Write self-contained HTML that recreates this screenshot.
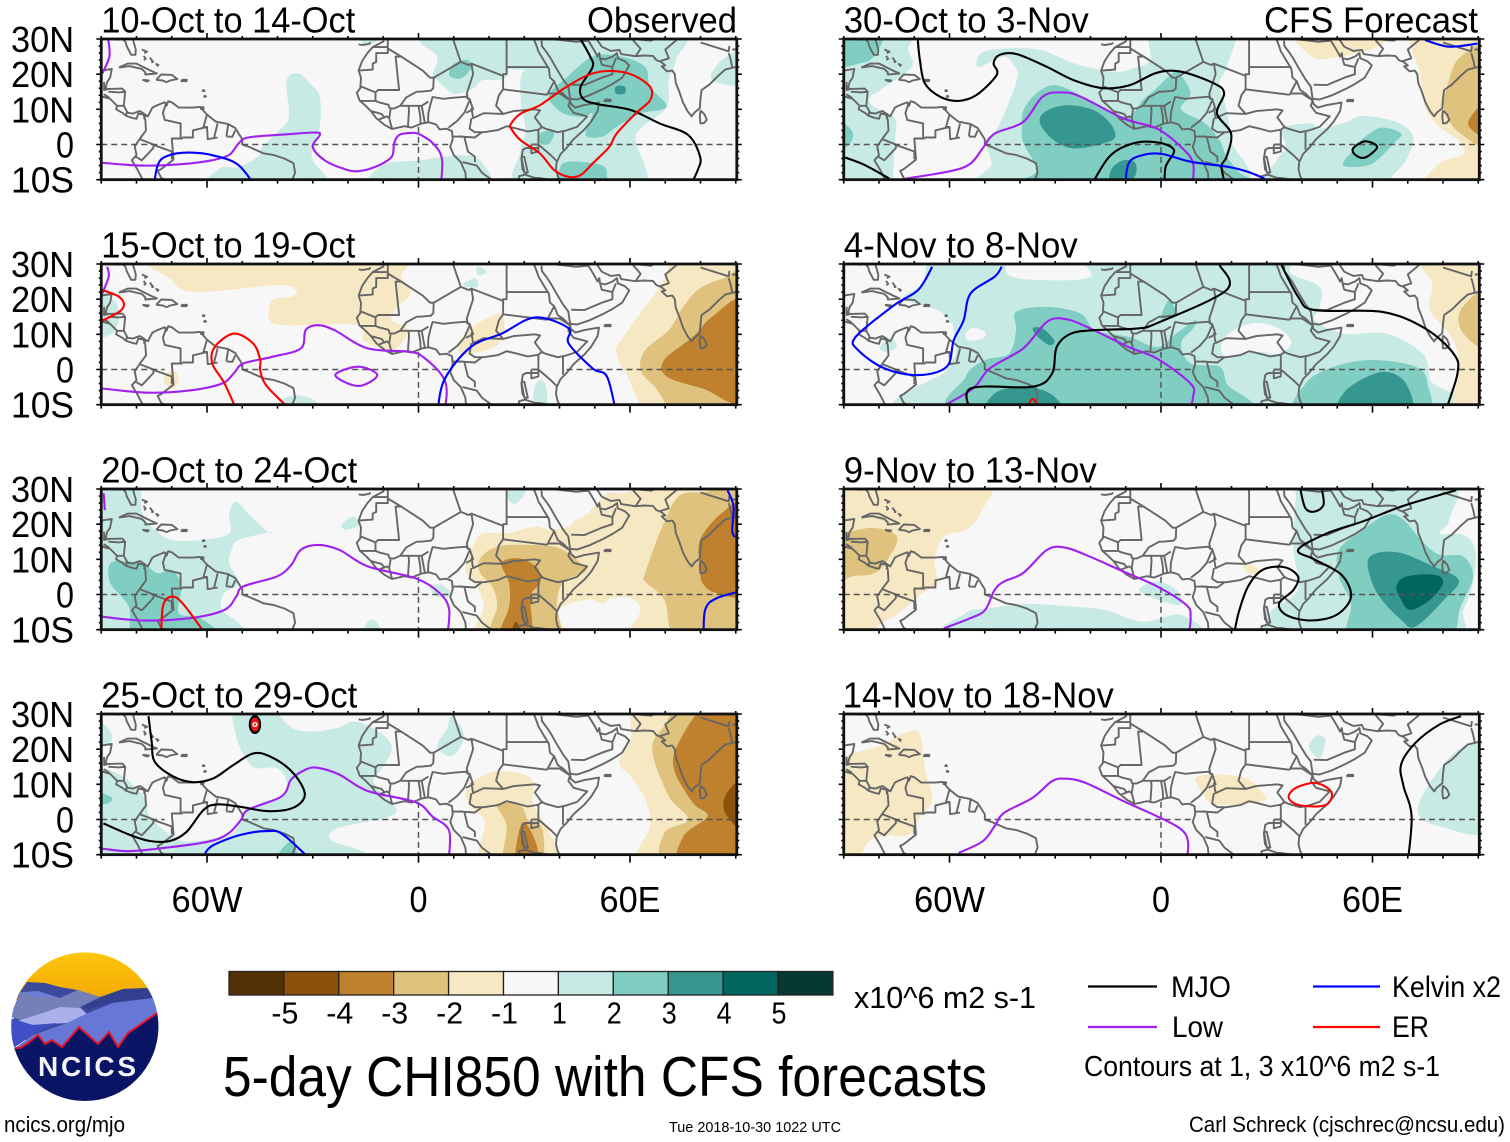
<!DOCTYPE html>
<html lang="en">
<head>
<meta charset="utf-8">
<title>5-day CHI850 with CFS forecasts</title>
<style>
html,body{margin:0;padding:0;background:#fff}
svg{display:block}
text{font-family:"Liberation Sans",sans-serif;fill:#000}
</style>
</head>
<body>
<svg id="chart" width="1510" height="1142" viewBox="0 0 1510 1142" xmlns="http://www.w3.org/2000/svg">
<g id="panels"></g>

<g>
  <clipPath id="logo-clip"><ellipse cx="84.8" cy="1026.7" rx="73.6" ry="74.3"/></clipPath>
  <linearGradient id="sky" x1="0" y1="0" x2="0" y2="1"><stop offset="0" stop-color="#ffc80c"/><stop offset="1" stop-color="#f2a804"/></linearGradient>
  <g clip-path="url(#logo-clip)">
    <rect x="10" y="950" width="150" height="50" fill="url(#sky)"/>
    <polygon points="27,982 45,983 60,987 77,990 100,997 123,989 147,988 160,1000 160,1040 10,1040 18,995" fill="#3b4a9b"/>
    <polygon points="20,992 38,995 60,998 78,990 100,997 80,1007 88,1015 43,1025 10,1017" fill="#7580b8"/>
    <polygon points="22,992 38,991 60,998 35,997" fill="#6d7ed8"/>
    <polygon points="82,1007 107,995 123,989 147,988 153,998 113,1002 88,1010" fill="#34408f"/>
    <polygon points="17,1021 43,1013 60,1007 80,1008 88,1015 67,1023 33,1025" fill="#aab0ea"/>
    <polygon points="88,1013 113,1003 153,998 160,1013 128,1033 120,1047 60,1050 15,1048 33,1035 67,1023" fill="#6677d6"/>
    <polygon points="10,1018 33,1025 57,1023 37,1032 15,1047 10,1050" fill="#3f4fc5"/>
    <polygon points="10,1048 15,1048 20,1048 28,1043 38,1035 45,1044 52,1040 62,1047 79,1027 98,1044 109,1032 118,1047 128,1033 157,1013 160,1012 160,1105 10,1105" fill="#0a1465" stroke="none"/>
    <polyline points="15,1048 20,1048 28,1043 38,1035 45,1044 52,1040 62,1047 79,1027 98,1044 109,1032 118,1047 128,1033 157,1013" fill="none" stroke="#e8142a" stroke-width="2"/>
  </g>
  <text x="38" y="1076" font-size="28" font-weight="bold" textLength="98" lengthAdjust="spacing" style="fill:#f4f4f8">NCICS</text>
</g>

<g id="colorbar"></g>
<text x="854" y="1008" font-size="31" textLength="182" lengthAdjust="spacingAndGlyphs">x10^6 m2 s-1</text>

<g>
  <line x1="1088" y1="986.5" x2="1157" y2="986.5" stroke="#000" stroke-width="2.2"/>
  <text x="1171" y="997" font-size="30" textLength="60" lengthAdjust="spacingAndGlyphs">MJO</text>
  <line x1="1313" y1="986.5" x2="1380" y2="986.5" stroke="#0000ff" stroke-width="2.2"/>
  <text x="1392" y="997" font-size="30" textLength="109" lengthAdjust="spacingAndGlyphs">Kelvin x2</text>
  <line x1="1088" y1="1027" x2="1157" y2="1027" stroke="#a020f0" stroke-width="2.2"/>
  <text x="1172" y="1037" font-size="30" textLength="51" lengthAdjust="spacingAndGlyphs">Low</text>
  <line x1="1313" y1="1027" x2="1380" y2="1027" stroke="#ff0000" stroke-width="2.2"/>
  <text x="1392" y="1037" font-size="30" textLength="37" lengthAdjust="spacingAndGlyphs">ER</text>
  <text x="1084" y="1076" font-size="29" textLength="356" lengthAdjust="spacingAndGlyphs">Contours at 1, 3 x10^6 m2 s-1</text>
</g>

<text x="223" y="1096" font-size="57" textLength="764" lengthAdjust="spacingAndGlyphs">5-day CHI850 with CFS forecasts</text>
<text x="4" y="1132" font-size="22" textLength="121" lengthAdjust="spacingAndGlyphs">ncics.org/mjo</text>
<text x="669" y="1132" font-size="15" textLength="172" lengthAdjust="spacingAndGlyphs">Tue 2018-10-30 1022 UTC</text>
<text x="1189" y="1132" font-size="22" textLength="316" lengthAdjust="spacingAndGlyphs">Carl Schreck (cjschrec@ncsu.edu)</text>
</svg>

<script>
/* ---------- colour scale ---------- */
const barLevels = [-6,-5,-3,-2,-1,0,1,2,3,4,5];
const barTickLabels = ["-5","-4","-3","-2","-1","1","2","3","4","5"];
const latTicks = [30,20,10,0,-10];
const latTickLabels = ["30N","20N","10N","0","10S"];
const lonTicks = [-60,0,60];
const lonTickLabels = ["60W","0","60E"];

/* ---------- panels: titles ---------- */
const panelTitles = ["10-Oct to 14-Oct","15-Oct to 19-Oct","20-Oct to 24-Oct","25-Oct to 29-Oct","30-Oct to 3-Nov","4-Nov to 8-Nov","9-Nov to 13-Nov","14-Nov to 18-Nov"];

/* ---------- basemap, [lon,lat] ---------- */
const coastLines = [
[[-9.6,30.4],[-10,29.3],[-13,27.7],[-14.5,26],[-16,23.7],[-17,21],[-16.3,19],[-16.5,16],[-17.5,14.7],[-16.7,12.5],[-15,11],[-13.5,9.5],[-12,7.5],[-9.5,5.5],[-7.5,4.4],[-4,5.2],[-2,4.8],[1,6],[3,6.3],[5,5.7],[6,4.3],[8,4.5],[9.5,3.8],[9.7,1.5],[9,-.7],[10,-3],[12,-5],[13.3,-8],[13.5,-10.5]],
[[32.5,30.5],[33.5,28],[34,26.5],[35.5,24],[37,21.5],[37.3,19],[38.5,18],[39.5,15.5],[41,14.5],[43,12.5],[43.3,11.5],[44.5,10.5],[47,11.2],[51.2,11.9],[50.8,9.5],[49,6.5],[47,4.2],[44,1.5],[42,-1],[40.3,-2.7],[39.2,-5],[39,-7],[39.5,-9],[40.3,-10.5]],
[[34.9,29.5],[35,28],[36.5,26],[37.5,24.5],[39,21.8],[41,18.5],[42.5,16.5],[43,13],[45,12.8],[48.5,14],[52.2,15.7],[55,17.2],[57.8,19],[59.8,22.5],[58.5,23.7],[56.5,24.5],[56.3,26],[55,25],[53,24.2],[51.5,24.5],[51.3,26],[50.8,25],[50,26.5],[48.5,29],[47.8,30]],
[[48.8,30.4],[50.5,30],[52,27.8],[54.5,26.6],[57,26.9],[57.5,25.7],[61.5,25.1],[64,25.3],[66.5,25.2],[67.5,24],[68.8,23.5],[70,22.5],[69,22.2],[70.5,20.8],[72,21],[72.7,20],[73,17.5],[74,15],[75,12],[76.3,9.5],[77.5,8],[78.2,9],[79.8,10.3],[80,13],[80.3,15.5],[82.5,17],[85,19.5],[87,21.3],[89,21.8],[90,22]],
[[80,9.7],[81.2,8.5],[81.8,7],[81,6.1],[80,6],[79.8,8],[80,9.7]],
[[-83,29],[-82.8,28],[-81.5,25.5],[-80.3,25.5],[-80.2,27],[-81.2,30.5]],
[[-90,30],[-89,30.3],[-85.5,29.8],[-83.9,30],[-83,29]],
[[-90,21],[-87,21.5],[-87.5,19],[-88.3,17.8],[-88.8,16],[-88,15.8],[-84,15.9],[-83.2,15],[-83.6,11],[-82.5,9],[-81,8.8],[-80,9.2],[-79,9.5],[-77.5,8.5],[-76.8,8],[-75.5,10.5],[-74.5,11],[-72,12],[-71.5,11],[-71,12.3],[-70,12],[-68,10.5],[-64,10.5],[-62,10.7],[-60,8.5],[-57.5,6.5],[-54,5.8],[-52,4.7],[-50,1.5],[-50,0],[-48,-.7],[-44,-2.5],[-41,-3],[-38,-4],[-35.5,-5.3],[-35,-8],[-36,-10.5]],
[[-92,14.5],[-90,13.7],[-87.5,13],[-87,12.5],[-85.5,11],[-85.8,10],[-84,9],[-83,8.2],[-81,7.5],[-80,7.3],[-79.5,8.8],[-78,8.5],[-77.5,7],[-77.3,4],[-79,1.7],[-80.5,-.5],[-80,-3],[-81.3,-4.5],[-79.8,-7],[-78.5,-9.5],[-78,-10.5]],
[[-85,21.9],[-82.5,23],[-80,23],[-76,21],[-74.2,20.2],[-77.5,19.9],[-77.5,20.5],[-78.5,21.5],[-82,22.3],[-85,21.9]],
[[-74.4,18.4],[-73,19.9],[-70,19.8],[-68.4,18.6],[-70.5,18.2],[-71.5,17.7],[-72.5,18.2],[-74.4,18.4]],
[[-78.3,18.4],[-76.5,18.2],[-77,17.9],[-78.3,18.4]],
[[-67.2,18.4],[-65.7,18.4],[-65.8,18],[-67.2,18],[-67.2,18.4]],
[[-61,15.6],[-60.7,15.2],[-61.2,15.2],[-61,15.6]],
[[-60.6,14],[-60.3,13.6],[-60.8,13.6],[-60.6,14]],
[[-78.5,27],[-77,26.4],[-77.8,26]],
[[-78,25.2],[-77.4,24.4],[-77.9,24]],
[[-76.2,24.7],[-75.3,23.5],[-75.8,23.4]],
[[-74.6,23],[-73.8,22.6],[-74.2,22.2]],
[[-61.7,10.6],[-61,10.6],[-61,10.1],[-61.7,10.1],[-61.7,10.6]],
[[32,0],[34,0],[34,-2],[32,-2.5],[32,0]],
[[29.2,-3.5],[30,-3.5],[31,-8],[30,-8],[29.2,-3.5]],
[[-17,28.5],[-16,28.3],[-14,28.6],[-13.6,29]],
[[52.8,12.7],[54.5,12.7],[54.5,12.3],[52.8,12.3],[52.8,12.7]]
];
const borderLines = [
[[-8.7,30],[-8.7,27.7]],[[-8.7,30],[-6,30],[-3.5,31]],
[[-13,27.7],[-8.7,27.7],[-8.7,26],[-12,26],[-12,23.5],[-13,23],[-13,21.3],[-17,21]],
[[-8.7,27.3],[-4.9,25],[-6.5,25],[-5.5,15.5],[-11.5,15.5],[-12.2,14.8],[-16.3,16.5]],
[[-4.9,25],[1.2,21],[3.3,19],[4.3,19],[4.2,16],[3.5,15.3],[.5,15],[-.5,15],[-2,14.2],[-3.5,13.4],[-5.2,11],[-7,10.2],[-8.2,10.3],[-8.5,11.3],[-11.3,12],[-12.2,12.4],[-12.2,14.8]],
[[4.3,19],[12,23.5],[9.8,30],[9.5,30.5]],
[[12,23.5],[14.2,22.6],[15,23],[24,19.5],[24,20],[25,20],[25,31.5]],
[[25,22],[37,22]],
[[15,23],[15.5,20],[13.7,14.5],[14,13],[14.5,13],[15.5,10],[13.5,9]],
[[24,19.5],[24,15.7],[22.8,14],[22,11],[24,8.7],[18.5,8.9],[15.5,7.5],[15,10.5]],
[[3.5,11.8],[4,13.5],[7,13],[10,13.3],[13.5,13.6],[14,13]],
[[2.7,6.3],[2.8,9],[3.5,11.8]],
[[8.5,4.8],[11,6.7],[13,9],[14.5,12.5]],
[[1.8,6.2],[.9,11],[0,11]],
[[-3,5],[-2.7,9.5],[-2.8,11],[.9,11],[2.8,12.2]],
[[0,11],[.5,8],[.6,6]],
[[-5.2,11],[-2.8,11]],
[[-7.5,4.4],[-8.3,7.5],[-7.9,10.2]],
[[-13.5,9.5],[-10.5,8.7],[-9.5,7.5]],
[[-11.5,7],[-9,8],[-8.5,7.6]],
[[-16.7,12.4],[-12.2,12.4]],
[[24,8.7],[27,9.5],[33,10],[34.5,9.7],[33,7.7],[35,5],[34,4.2],[31,3.7],[28,4.5],[25,5.2],[22.5,4.1],[18.6,3.5],[16,3.5],[14.5,4.5],[15,7.5]],
[[24,15.7],[36,14.2],[36.5,14.2],[38.5,18]],
[[36.5,14.5],[40,14.5],[43,12.5],[42.5,11],[44,9],[47.9,8],[45,5],[42,4],[39.5,3.5],[36,4.5],[35,5]],
[[41,-1.5],[41,3.9]],
[[34,4.2],[34,0],[37.5,-3],[39.2,-4.7]],
[[34,-1],[30.5,-1],[29.6,-1.5],[29.2,-4],[29.5,-7],[30.5,-8.5],[28.5,-9],[28.5,-11]],
[[12.5,-5],[16.5,-6],[18,-8],[22,-11]],
[[11.5,2.3],[16,2],[18,3.5]],
[[13,2.2],[14,-2],[16,-3.5],[16,-5]],
[[9.8,2.3],[13.3,2.2]],
[[30,-8.5],[33,-9.5],[34,-9.5],[40.4,-10.5]],
[[43.3,17],[47,16.9],[52,19],[55,20],[55,22],[52,22.7],[51.5,24.5]],
[[55,22],[56,24.5]],
[[37,30],[38,30],[44.7,29.2],[48,29.5]],
[[61.5,25],[63,27.2],[61,29.5],[60.9,31]],
[[60.9,30],[66,29.5],[69,31]],
[[68.5,23.7],[71,24.5],[70,27],[73,29.5],[74,31]],
[[80,29],[88,26.5],[88.2,28]],
[[88,26],[88.5,24.3],[89,22]],
[[89,27],[92,27]],
[[-89.2,17.8],[-89.2,15.5],[-88.3,15.7]],
[[-89.3,14.3],[-87.7,13.3]],
[[-88,15],[-85,14.8],[-83.2,15]],
[[-85.7,11],[-83.7,11]],
[[-83,8.2],[-82.7,9.5]],
[[-77.3,8.6],[-77.9,7.2]],
[[-71.5,12],[-72.5,9],[-72,7],[-67.5,6],[-67.5,2],[-67,1.5]],
[[-60,8.5],[-61,5],[-60,5],[-59.8,1.5],[-57,2]],
[[-57,6],[-58,2]],
[[-54,5.8],[-54.5,2.3]],
[[-52,4],[-52.8,2.2],[-54.5,2.3]],
[[-60,5],[-64,4],[-64,2],[-67,2]],
[[-67,1.7],[-70,1.7],[-69.5,-4.3],[-73,-7],[-74,-7.5],[-73,-9.5],[-71,-10.5]],
[[-79,1.5],[-75.2,0],[-75.2,-1],[-78.5,-4.5],[-80.3,-3.4]],
[[-75,-.2],[-70,-2],[-70,-4.2]]
];

/* ---------- panel 1: 10-Oct to 14-Oct ---------- */
const shadeP1 = [
[1,[[-37.4,18.3],[-34,20.2],[-30.7,17.3],[-28,13.6],[-28,5],[-30,-.7],[-30,-4.5],[-26.6,-10],[-59,-10],[-56.4,-6.8],[-51,-6.4],[-45.6,-3.5],[-44.2,-.7],[-39.5,4],[-36.8,7.9]]],
[1,[[-13,-10],[-10.3,-5.9],[.5,-4.5],[12.8,-3],[18.2,-5.4],[18.8,-10]]],
[1,[[.5,30],[25,30],[25,19.7],[18.2,18.3],[15.5,16],[10,14.5],[5.3,18.3],[4,19.7],[5.3,25],[.5,29]]],
[1,[[25.2,30],[73,30],[73,24],[71,18.3],[70.4,10.7],[63.6,5],[61.6,1.2],[63,-10],[29,-10],[29,-1.6],[30.4,4],[29,12.6],[29.7,20.7],[36.5,22],[25.2,22]]],
[1,[[86,24],[83.3,18.3],[90,17.3],[90,26.8]]],
[1,[[-16.4,29.5],[-13,28.7],[-8.3,30],[-16,30]]],
[2,[[8.7,19.7],[10,23],[14,24],[14.8,21.6],[12,18.8]]],
[2,[[37.9,15.5],[41.2,18.3],[49.4,25],[57.5,25],[64.3,22],[65.7,16.4],[70.4,10.7],[63,8.8],[56.2,5],[52,2.2],[47.4,2.7],[49.4,8.8],[46.7,7.9],[41.2,8.8],[37.2,12.6]]],
[2,[[34.5,3.1],[38.5,4],[37.2,.3],[34.5,.3]]],
[2,[[39.9,-7.3],[42.6,-4.9],[52,-5.9],[53.5,-9.2],[52.8,-10],[40,-10]]],
[3,[[56,16.5],[58.5,16.5],[58.5,14.5],[56,14.5]]],
[3,[[53,13],[54.4,13],[54.4,12.2],[53,12.2]]]
];
const contoursP1 = [
["low",[[-88,29.7],[-87.7,25],[-89.7,20.2]]],
["low",[[-89.7,-5.2],[-78.2,-6],[-67.4,-5.6],[-59.2,-4.6],[-53.8,-3],[-51,.3],[-48.3,2],[-37.4,2.9],[-29.3,3.4],[-28,2.7],[-30,-.7],[-26.6,-4.5],[-21.2,-6.9],[-17.1,-7.6],[-11.7,-6.1],[-7.6,-3.5],[-6.9,.3],[-5.5,2.7],[-2.2,3.3],[.5,2.8],[4.6,-.2],[6.7,-4.5],[6.2,-10]]],
["kelvin",[[-75.2,-10],[-74,-5.9],[-71.4,-3.3],[-65.3,-2.3],[-57.8,-3.2],[-51,-5.9],[-45.6,-10]]],
["mjo",[[46,29.9],[48.7,25],[49.4,22],[46,16.4],[46.7,13],[50.7,11.5],[60.2,9.8],[68.4,6],[76.5,2.7],[79.9,-3.5],[79.2,-7.3],[76.5,-10]]],
["er",[[26.3,6],[29,8.8],[34.5,11.2],[41.2,15.9],[48,19.7],[53.5,20.9],[60.2,20],[65.7,16.4],[65.7,12.6],[61.6,8.8],[56.2,3.1],[54.1,-.7],[49.4,-5.4],[46,-8.7],[42.6,-9.2],[38.5,-7.3],[34.5,-2.6],[29,1.2],[26.3,4.5]],true]
];

/* ---------- panel 2: 15-Oct to 19-Oct ---------- */
const shadeP2 = [
[-1,[[-74,30],[-70,25.4],[-63.2,22],[-40,24],[-34.7,22.6],[-36,20.7],[-41.5,19.7],[-42.2,14],[-37.4,12.6],[-17,12.6],[-15.6,8.3],[-7.6,5.5],[-2.8,11.2],[-7.6,14],[-6.2,17.7],[-2.2,21.5],[-4.9,26.2],[-8.3,30]]],
[-1,[[11.4,7.4],[14.8,11.7],[22.3,15.9],[24.3,14],[22.9,7.4],[15.5,4.5],[12,4.5]]],
[-1,[[-72,-2],[-70,-.2],[-68,-2],[-69.3,-5.4],[-72,-4]]],
[-1,[[74.5,30],[68.4,23.5],[57.5,8.3],[56.2,4.5],[58.9,-1.1],[67,-10],[90,-10],[90,30]]],
[-2,[[86,25.7],[79.2,22.6],[74.5,16.9],[71,11.2],[64.3,5.5],[63,-.2],[67,-4.9],[74.5,-10],[90,-10],[90,25.4]]],
[-3,[[90,19.2],[83.3,15],[77.9,9.3],[69.7,2.7],[70.4,-2],[80.6,-5.4],[90,-8.7]]],
[1,[[-90,22.6],[-86.4,19.7],[-85,15],[-87,10.2],[-90,9.8]]],
[1,[[16.8,29.2],[19.5,27.8],[16.8,26.8]]],
[1,[[12.8,24.5],[16.1,25.9],[16.8,23.5],[13.4,23.5]]],
[1,[[-41.5,-10],[-37.4,-7.8],[-30.7,-8.2],[-26.6,-10]]],
[1,[[33,-4.9],[35.1,-3],[36.5,-6.8],[35.8,-10],[32.4,-10]]]
];
const contoursP2 = [
["low",[[-88.3,29.2],[-87.9,26.4],[-89.7,21.6]]],
["low",[[-89.7,-5.4],[-76.8,-6.6],[-64.6,-5.9],[-55.8,-4],[-52.4,-1.1],[-49.7,1.7],[-41.5,3.6],[-33.4,6],[-32,11.2],[-28.6,12.6],[-23.9,11.2],[-14.4,6],[-2.2,5],[1.9,3.1],[6.6,-1.6],[8,-5.9],[7.3,-10]]],
["low",[[-23.6,-1.6],[-17.1,.8],[-11.7,-1.6],[-17.1,-4.7]],true],
["er",[[-90,23.5],[-85,20.7],[-84.3,16.9],[-90,12.4]]],
["er",[[-51,-10],[-55,-4],[-58.5,1.7],[-57.8,6.4],[-52.4,10.2],[-46.9,7.4],[-44.9,2.7],[-44.9,-.2],[-42.9,-4.9],[-34.7,-10]]],
["kelvin",[[5.3,-10],[7.3,-3],[14.8,6.4],[23.6,10.2],[33.1,14.8],[42.6,11.7],[42.6,7.4],[49.4,.3],[53.5,-2.1],[56.2,-10]]]
];

/* ---------- panel 3: 20-Oct to 24-Oct ---------- */
const shadeP3 = [
[1,[[-89,30],[-79.5,30],[-78.2,23],[-71.4,16],[-61.9,15.5],[-53.7,17.4],[-53.7,23],[-51.7,26.4],[-48.3,23],[-42.9,17.9],[-41.5,17.9],[-51,15.5],[-53,12.7],[-53.7,8.9],[-51,3.2],[-55.1,.4],[-55.8,-4.4],[-51,-8.2],[-50.3,-10],[-90,-10],[-90,30]]],
[1,[[-21.8,19.8],[-18.5,22.2],[-17,19.8],[-20.5,18.4]]],
[1,[[-15,-8.6],[-12.3,-7.4],[-9.6,-10],[-15,-10]]],
[1,[[3.3,2.3],[6.6,2.7],[9.4,-.1],[5.3,-.6]]],
[1,[[25,30],[31.8,30],[28.4,26.4],[25.6,26.9]]],
[2,[[-87.4,8.9],[-82.2,9.4],[-77.5,8.4],[-74,6],[-70,7],[-67.3,2.3],[-68,-5.3],[-61.9,-6.7],[-56.4,-10],[-79.5,-10],[-82.2,-3.4],[-87.4,3.2]]],
[-1,[[44,20.8],[48,23.1],[53.5,28.8],[58.9,29],[73.8,30],[90,30],[90,-10],[61.6,-10],[63,-4.4],[60.2,-1],[54.8,-1],[52.1,-2.5],[48,-1.5],[39.9,-4.4],[39.9,-10],[16.8,-10],[18.5,-3.4],[16.1,3.2],[13.4,7],[15.5,13.7],[18.2,17.4],[25,17.4],[33.1,19.3],[37.2,18.4],[42.6,19.3]]],
[-2,[[17.5,10.3],[22.3,13.6],[30.4,14.1],[39.9,13.2],[46,8.9],[47.4,6.5],[41.2,3.7],[39.2,-2.5],[39.2,-10],[20.9,-10],[22.3,-3.4],[20.9,2.3],[17.5,6.1]]],
[-2,[[64.3,6],[68.4,17.4],[73.8,27.9],[82,29.3],[90,30],[90,-10],[73.8,-10],[69.7,-1.5],[64.3,3.7]]],
[-3,[[23.6,8.9],[28.4,10.3],[33.8,7.5],[34.5,3.2],[31.8,-.6],[31.8,-10],[22.9,-10],[25.7,-3.4],[25.7,3.2]]],
[-3,[[79.9,15.5],[86,23.1],[90,25.5],[90,1.3],[84.7,.4],[80.6,3.2],[79.9,8]]],
[-4,[[27.7,-7.7],[29.7,-10],[26,-10]]]
];
const contoursP3 = [
["low",[[-89.3,28.8],[-89,24]]],
["low",[[-89.7,-6.3],[-78.2,-7.4],[-64.6,-6.7],[-55.1,-4.4],[-51.7,-.6],[-49.7,2.3],[-40.2,5.1],[-36.1,8.4],[-33.4,12.7],[-28.6,14.1],[-22.5,12.7],[-14.4,8],[-.8,4.6],[6,.4],[8.7,-4.4],[8,-10]]],
["er",[[-73,-10],[-72.5,-3.4],[-70,-.6],[-66.6,-2.9],[-59.2,-10]]],
["kelvin",[[87.7,29.6],[89.4,25],[89,18.4],[89.7,16.3]]],
["kelvin",[[80.9,-10],[81.3,-4.4],[84.7,-1],[90,1.3]]]
];

/* ---------- panel 4: 25-Oct to 29-Oct ---------- */
const shadeP4 = [
[1,[[-89.4,14.6],[-83.7,12.2],[-80,8.9],[-77.1,5.1],[-76.6,1.3],[-72.9,-2.5],[-69.5,-4.9],[-64.8,-6.3],[-53.5,-4.4],[-51.6,-2.5],[-48.7,2.2],[-44,5],[-37.9,7],[-37.4,10.8],[-40.2,14.6],[-45.9,14.6],[-48.3,16.4],[-51.6,23.1],[-52.3,30],[-43,30],[-36.4,26.4],[-30.8,25],[-23.2,26],[-17.5,27.8],[-10,24],[-7.6,20.2],[-10,15],[-12.8,10.8],[-8,5],[-6.2,2.2],[-10,.3],[-21.3,-2],[-25.1,-3.9],[-24.1,-6.3],[-15.6,-9.2],[-14.7,-10],[-90,-10],[-90,14.6]]],
[1,[[-89.4,27.3],[-87,24],[-88,21.2],[-90,21.2],[-90,27.3]]],
[1,[[8,25.6],[9.4,29.4],[12.8,24.6],[11.4,19.9],[8.7,18],[5.3,20.9]]],
[2,[[-90,7.9],[-87.3,6.5],[-88,4.6],[-90,4.3]]],
[2,[[-41.2,-10],[-36.4,-6.3],[-34.1,-10]]],
[-1,[[60.2,28],[63,30],[90,30],[90,-10],[63,-10],[65.7,-1.9],[64.3,5.7],[60.2,12.3],[56.9,16.1],[60.2,22.7]]],
[-1,[[13.4,6.6],[14.8,10.4],[22.3,13.7],[31.8,11.8],[32.4,4.7],[34.5,.9],[37.2,-3.8],[39.2,-10],[18.2,-10],[18.9,-.9],[15.5,2.8]]],
[-2,[[66.3,19.9],[70,27],[75,30],[90,30],[90,-10],[70.4,-10],[69.7,-3.8],[76.5,0],[71,6.6]]],
[-2,[[22.3,4.3],[29,3.8],[31,0],[35.1,-2.8],[34.5,-10],[24.3,-10],[25,-1.9]]],
[-3,[[82,30],[90,30],[90,-10],[74.5,-10],[75.2,-4.7],[82,.9],[77.9,4.7],[72.5,14.2],[73.8,21.8]]],
[-3,[[28.4,-3.8],[30.4,-.9],[33.8,-9.5],[27.7,-10]]],
[-4,[[90,11.4],[87.5,7.6],[87,1.9],[90,-3.3]]]
];
const contoursP4 = [
["low",[[-89.7,-8.3],[-82.2,-9],[-71.4,-8],[-59.2,-6.2],[-53.7,-3.8],[-50.3,0],[-48.3,2.8],[-38.8,6.6],[-36.1,11.4],[-32,14.2],[-28.6,14.7],[-22.5,12.8],[-14.4,8.1],[-.8,4.9],[3.9,.9],[8.7,-3.3],[8.4,-10]]],
["kelvin",[[-60.6,-9.6],[-58.2,-7.3],[-50.6,-4.4],[-43,-3.3],[-38.3,-4.4],[-28.9,-10.1]]],
["mjo",[[-76.6,29.4],[-75.7,22.1],[-74.8,16.4],[-69.5,12.2],[-63.9,10.6],[-58.2,11.7],[-52.5,15.5],[-46.8,18.8],[-42.1,17.9],[-36.4,14.1],[-32.7,8.9],[-32.7,5.6],[-36.4,3],[-43,2.4],[-50.6,3.6],[-57.2,4.3],[-61,2.7],[-65.8,-3.5],[-70.5,-6.1],[-76.2,-6.1],[-81.8,-4.4],[-89.4,-1.1]]]
];
const stormP4 = [-46.4,27];

/* ---------- panel 5: 30-Oct to 3-Nov ---------- */
const shadeP5 = [
[1,[[-71.7,30],[-71.7,26.9],[-70.7,22.1],[-78.8,16],[-82.5,13.6],[-81.6,10.8],[-75.5,7.4],[-75.5,1.3],[-76,-9.2],[-76,-10],[-90,-10],[-90,30]]],
[1,[[-48,-10],[-48,-5.4],[-49.4,-.6],[-48.5,2.2],[-45.7,6],[-40.9,18.3],[-41.4,22.1],[-44.7,25],[-51.3,22.1],[-52.3,23.6],[-50.4,26.4],[-43.8,27.3],[-34.3,26.9],[-24.8,23.1],[-17.3,21.2],[-11.6,20.7],[-7.8,21.7],[-3.1,24],[-1.7,30],[19.9,30],[18.6,22.1],[16.6,17.3],[18.6,9.8],[19.9,1.2],[20.6,-10]]],
[1,[[34.2,4.5],[42.3,6],[45,4.5],[52.5,6.4],[57.3,8.1],[66.8,6.4],[71.5,2.2],[69.5,-4.5],[65.4,-9.2],[64,-10],[30,-10],[32.8,-4.5],[35.5,-.7]]],
[2,[[-90,30],[-79.2,30],[-79.7,27.8],[-82.5,24],[-85.4,23.1],[-89.2,22.1],[-90,22]]],
[2,[[-90,7],[-87.8,4.1],[-88.2,.3],[-90,-2.5]]],
[2,[[-38.1,-10],[-35.3,-7.3],[-39,.3],[-39.5,4.1],[-39,9.8],[-35.3,14.6],[-30.5,16.9],[-24.8,15],[-18.2,11.2],[-12.6,8.4],[-8.5,8.3],[-5.2,12.6],[-1.8,15.5],[4.3,21.1],[5.7,19.7],[8.4,14.5],[5.7,10],[12.5,6],[16.6,1.2],[18.6,-3.5],[22,-7.8],[24.7,-10]]],
[2,[[51.6,-5.4],[54.5,-1.6],[57.9,2.2],[62.7,4.8],[68.1,3.1],[66,.3],[60,-5.4],[53.9,-6.4]]],
[3,[[-34.3,6],[-32.9,9.3],[-26.7,11.2],[-19.2,9.8],[-14.4,6],[-13,2.2],[-16.3,.3],[-24.8,-1.1],[-30.5,1.3]]],
[3,[[-14.2,-7.3],[-10.6,-4.5],[-7.2,-5.4],[-7.9,-9.7],[-14.2,-10]]],
[-1,[[71.5,30],[90,30],[90,-10],[74.2,-10],[79,-5.4],[85.8,-2.6],[84.4,1.2],[79,5],[74.9,10.7],[73.5,20.2]]],
[-1,[[38.3,30],[43,24.9],[50.5,24.9],[61.3,27.8],[65.4,30]]],
[-2,[[85,24.9],[81.7,18.3],[80.3,9.8],[85,3.1],[90,1.2],[90,27]]],
[-3,[[90,12.6],[87.1,6],[90,2.2]]]
];
const contoursP5 = [
["low",[[-72.3,-9.7],[-59.4,-7.5],[-54,-5.4],[-50.6,-1.1],[-47.2,3.1],[-39.1,6.4],[-33.6,13.6],[-28.2,14.8],[-22.8,13.6],[-10.6,7.4],[-1.1,4.5],[5.7,-.7],[9.1,-5.4],[8.8,-10]]],
["mjo",[[-69,29.7],[-68.4,24],[-67,17.4],[-62.7,13.6],[-57.5,12.4],[-52.3,14.1],[-46.6,19.8],[-47.5,23.1],[-45.7,25.5],[-40.9,25.7],[-32.4,22.1],[-24.8,18.3],[-16.3,16],[-8.8,16.9],[-1.2,20.4],[5.7,20.7],[15.2,17.3],[17.9,14.5],[15.9,8.8],[19.9,3.1],[18.6,-3.5],[17.2,-6.4],[18.6,-10]]],
["mjo",[[-89.6,-3.7],[-83.9,-5.9],[-77.1,-9.7]]],
["mjo",[[-20.5,-10],[-14.7,-3.5],[-7.9,.3],[-1.1,.6],[3.7,-1.6],[1.3,-6.4],[1,-10]]],
["mjo",[[54.5,-1.1],[57.9,.9],[61.3,-.7],[57.9,-3.7],[55.2,-3]],true],
["kelvin",[[-10.2,-10],[-9.2,-5.4],[-5.2,-3],[.3,-2.7],[8.4,-4.9],[19.3,-6.4],[24.7,-7.8],[29.4,-9.7]]],
["kelvin",[[74.9,29.7],[81.7,27.8],[89.8,28.7]]]
];

/* ---------- panel 6: 4-Nov to 8-Nov ---------- */
const shadeP6 = [
[1,[[-64.2,30],[-45.9,30],[-43.1,26.8],[-32.3,25.4],[-20.1,26.4],[-18,30],[32.2,30],[36.9,27.3],[45,23.5],[45,17.8],[43.7,14],[51.8,10.2],[64,10.2],[74.2,4.5],[76.3,-3],[78.3,-10],[-66.9,-10],[-60.8,-.2],[-58.3,4.5],[-58.8,10.2],[-59.4,13.1],[-63.5,16.9],[-73,20.2],[-67.6,24.5]]],
[1,[[-79.8,6.4],[-76.4,8.8],[-75,6.5],[-78,5]]],
[0,[[-55.4,10.2],[-53.3,11.8],[-49.9,10.7],[-50.6,8.8],[-54.7,8.3]]],
[0,[[17.2,7.4],[20.6,11.2],[27.4,13.3],[34.2,11.2],[36.9,7.4],[33.5,4.5],[27,5],[18.6,3.6]]],
[2,[[-55.4,-10],[-55.4,-2.1],[-49.9,2.7],[-43.1,4.5],[-41.1,11.2],[-41.1,16.4],[-32.3,17.8],[-22.8,15.9],[-18.7,11.2],[-9.2,9.3],[-1.1,6.4],[4.3,10.2],[9.8,14],[9.1,11.7],[5.7,7.4],[8.4,1.7],[16.6,.8],[18.6,-4],[22,-10]]],
[2,[[.3,15.9],[2.3,19.7],[4.3,15.5],[.3,14]]],
[2,[[39.6,-10],[41,-4],[49.1,.8],[60,2.7],[72.2,.8],[75.6,-4],[73.5,-10]]],
[3,[[-36.4,11.7],[-33.6,11.7],[-30.3,8.3],[-31.6,6.9],[-35,9.3]]],
[3,[[-48.8,-10],[-47.2,-6.8],[-38.9,-4.9],[-30.7,-7.3],[-28.9,-10]]],
[3,[[51.2,-10],[52.5,-5.9],[62.7,-.7],[69.5,-4],[70.1,-10]]],
[-1,[[72.9,30],[90,30],[90,-10],[83,-10],[84.4,-.2],[83,8.3],[76.3,16.9],[76.9,24.5]]],
[-2,[[90,22.6],[85,16.9],[85.8,10.2],[90,6.4]]]
];
const contoursP6 = [
["kelvin",[[-64.9,29.2],[-68.9,22.6],[-75.7,18.3],[-86.6,9.3],[-85.9,5.5],[-78.4,.3],[-68.9,-1.6],[-60.8,.8],[-58.8,8.3],[-56,14],[-54,21.6],[-47.2,26.4],[-45.2,29.2]]],
["low",[[-66.9,-10],[-54,-5.9],[-48.6,.3],[-39.1,6],[-32.3,13.6],[-26.9,14.3],[-20.1,11.7],[-9.2,6.4],[-1.1,3.1],[8.4,-4],[9.1,-7.8],[7.7,-10]]],
["mjo",[[-53.6,-10],[-54,-5.4],[-36.4,-4.9],[-30.9,-1.1],[-29.6,6.4],[-25.5,10.2],[-18.7,11.2],[-6.5,11.7],[-.8,13.3],[18.6,22.6],[16.6,29.7]]],
["mjo",[[32.6,30],[38.9,20.7],[43.7,16.9],[62.7,16.4],[74.9,11.7],[83,4.5],[84.1,-1.1],[80.3,-10]]],
["er",[[-38.7,-10],[-36.4,-8.4],[-33.6,-10]]]
];

/* ---------- panel 7: 9-Nov to 13-Nov ---------- */
const shadeP7 = [
[-1,[[-90,30],[-50.6,30],[-51.3,23.1],[-55.4,18.4],[-61.5,16.5],[-64.2,9.9],[-63.5,3.2],[-67.6,.4],[-74.4,-5.3],[-80.5,-9.1],[-82,-10],[-90,-10]]],
[-1,[[23.3,8],[26,8.4],[28.1,6.5],[25.4,5.6]]],
[-2,[[-87.9,17.9],[-81.1,18.9],[-74.9,16.5],[-77,10.8],[-81.1,6.1],[-87.9,5.1],[-90,2.7],[-90,15.5]]],
[1,[[39.6,30],[81,30],[81.7,21.2],[79,17.4],[85.8,17],[89.1,12.7],[88.5,3.2],[85.8,-4.4],[81.7,-10],[34.2,-10],[31,-5.3],[38.9,1.3],[37.6,12.7],[38.3,27.9]]],
[1,[[-59.4,-10],[-55.4,-5.3],[-48.6,-3.9],[-37.7,-2.7],[-25.5,-3.4],[-16,-4.4],[-5.2,-7.7],[5.7,-5.8],[7.7,-10]]],
[1,[[-6.2,1.3],[-1.1,3.7],[4.3,1.3],[5.7,-2.9],[-1.1,-1.5]]],
[2,[[50.5,12.7],[57.3,18.4],[64,22.7],[68.8,21.2],[74.2,15],[79,11.3],[85.8,10.8],[88.5,5.1],[85,-3.4],[80.3,-10],[54.5,-10],[53.9,-2.5],[50.5,5.1]]],
[3,[[58.6,8.9],[61.3,11.8],[68.1,11.8],[76.3,8.4],[84.4,4.2],[80.3,-1.5],[72.2,-9.1],[68.1,-7.2],[61.3,.4]]],
[4,[[66.8,2.3],[69.5,5.1],[77.6,5.6],[80,3.2],[76.3,-1.5],[70.8,-4.4],[68.1,-1.5]]]
];
const contoursP7 = [
["low",[[-61.5,-9.6],[-54,-6.7],[-49.9,-4.4],[-47.2,1.3],[-44.5,3.7],[-39.1,6.1],[-32.3,12.7],[-27.5,13.4],[-21.4,11.3],[-10.6,6.5],[-1.1,2.3],[7.1,-2.9],[8.4,-6.3],[7.7,-10]]],
["mjo",[[20.4,-10],[22,-5.3],[24.7,2.3],[28.8,7],[34.9,7.8],[38.9,5.1],[37.6,1.3],[33.5,-2.5],[35.5,-5.8],[42.3,-7.4],[49.8,-5.8],[53.9,-.6],[51.2,5.6],[43.7,9.9],[38.9,12.7],[47.1,17.4],[57.3,20.8],[68.1,25],[79,28.3],[83.7,29.6]]],
["mjo",[[39.6,29.6],[41,24.5],[43.7,23.6],[46.1,25.5],[45.7,29.6]]]
];

/* ---------- panel 8: 14-Nov to 18-Nov ---------- */
const shadeP8 = [
[-1,[[-90,14.2],[-79.8,20.9],[-71.6,25.1],[-68.2,23.7],[-66.9,14.2],[-64.9,5.7],[-68.2,.9],[-71.6,-4.3],[-78.4,-4.7],[-83.2,-6.6],[-86.6,-10],[-90,-10]]],
[-1,[[9.8,11.8],[15.2,12.8],[24,11.8],[28.8,7.6],[28.8,5.2],[15.2,4.3],[11.8,7.6]]],
[1,[[42.3,21.8],[44.4,23.9],[46.7,22.7],[45,17.5],[42.3,19.9]]],
[1,[[72.9,1.9],[76.3,10.4],[84.4,19.9],[90,20.4],[90,-2.8],[79,-1.9]]]
];
const contoursP8 = [
["low",[[-57.4,-9.5],[-50.6,-6.2],[-47.2,-1.9],[-44.5,1.9],[-36.4,6.2],[-30.9,10.9],[-26.9,11.6],[-21.4,10.4],[-10.6,5.2],[-1.1,.9],[5.7,-2.8],[7.7,-6.6],[7.1,-10]]],
["mjo",[[69.9,-10],[71.1,.9],[68.8,9.5],[68.1,15.6],[72.2,21.8],[79,27],[85.1,29.4]]],
["er",[[36.2,6.6],[38.3,9],[43.7,10.4],[47.8,8.5],[48.4,6.2],[46.4,4],[41,3.8],[37.6,4.7]],true]
];

const panelShades = [shadeP1,shadeP2,shadeP3,shadeP4,shadeP5,shadeP6,shadeP7,shadeP8];
const panelContours = [contoursP1,contoursP2,contoursP3,contoursP4,contoursP5,contoursP6,contoursP7,contoursP8];

/* ---------- drawing ---------- */
const NS = "http://www.w3.org/2000/svg";
const LON_PX = 3.525, LAT_PX = 3.517;
const columnZero = [418.5, 1161];
const rowZero = [144.5, 369.5, 594.5, 819.5];
const titleFit = [254,254,256,256,245,234,253,271];
const levelColor = {"-6":"#543005","-5":"#8c510a","-4":"#8c510a","-3":"#bf812d","-2":"#dfc27d","-1":"#f6e8c3","0":"#f7f7f7","1":"#c7eae5","2":"#80cdc1","3":"#35978f","4":"#01665e","5":"#063a30"};
const contourColor = {mjo:"#000000",low:"#a020f0",kelvin:"#0000ff",er:"#ff0000"};

function make(tag, attrs, parent){
  const el = document.createElementNS(NS, tag);
  for (const k in attrs) el.setAttribute(k, attrs[k]);
  parent.appendChild(el);
  return el;
}
function pushOut(p){
  let lon = p[0], lat = p[1];
  if (lat <= -10) lat -= 3;
  if (lat >= 30) lat += 3;
  if (lon <= -89.9) lon -= 3;
  if (lon >= 89.9) lon += 3;
  return [lon, lat];
}
function splinePath(points, closed, xOf, yOf){
  const pts = points.map(pushOut).map(p => [xOf(p[0]), yOf(p[1])]);
  const n = pts.length;
  const at = i => closed ? pts[(i + n) % n] : pts[Math.max(0, Math.min(n - 1, i))];
  let d = "M" + pts[0][0].toFixed(1) + " " + pts[0][1].toFixed(1);
  const segs = closed ? n : n - 1;
  for (let i = 0; i < segs; i++){
    const p0 = at(i - 1), p1 = at(i), p2 = at(i + 1), p3 = at(i + 2);
    const c1x = p1[0] + (p2[0] - p0[0]) / 6, c1y = p1[1] + (p2[1] - p0[1]) / 6;
    const c2x = p2[0] - (p3[0] - p1[0]) / 6, c2y = p2[1] - (p3[1] - p1[1]) / 6;
    d += "C" + c1x.toFixed(1) + " " + c1y.toFixed(1) + " " + c2x.toFixed(1) + " " + c2y.toFixed(1) + " " + p2[0].toFixed(1) + " " + p2[1].toFixed(1);
  }
  return closed ? d + "Z" : d;
}
function polyPath(lines, xOf, yOf){
  return lines.map(l => "M" + l.map(p => xOf(p[0]).toFixed(1) + " " + yOf(p[1]).toFixed(1)).join("L")).join("");
}
function addText(parent, str, x, y, size, anchor, name, fit){
  const t = make("text", {x:x, y:y, "font-size":size, "text-anchor":anchor}, parent);
  
  
  if (fit) t.setAttribute('textLength', fit);
  if (fit) t.setAttribute('lengthAdjust', 'spacingAndGlyphs');
  t.textContent = str;
  return t;
}

const panelsRoot = document.getElementById("panels");
panelTitles.forEach(function(title, idx){
  const col = idx < 4 ? 0 : 1, row = idx % 4;
  const x0 = columnZero[col], y0 = rowZero[row];
  const xOf = lon => x0 + lon * LON_PX;
  const yOf = lat => y0 - lat * LAT_PX;
  const left = xOf(-90), right = xOf(90.3), top = yOf(30), bottom = yOf(-10);

  const g = make("g", {}, panelsRoot);
  
  

  const cp = make("clipPath", {id:"clip" + idx}, g);
  make("rect", {x:left, y:top, width:right - left, height:bottom - top}, cp);

  const bg = make("rect", {x:left, y:top, width:right - left, height:bottom - top, fill:"#f7f7f7"}, g);
  
  

  const inner = make("g", {"clip-path":"url(#clip" + idx + ")"}, g);
  panelShades[idx].forEach(function(s){
    const p = make("path", {d:splinePath(s[1], true, xOf, yOf), fill:levelColor[String(s[0])]}, inner);
    
    
  });

  const coast = make("path", {d:polyPath(coastLines.concat(borderLines), xOf, yOf), fill:"none", stroke:"#666666", "stroke-width":1.9, "stroke-linejoin":"round"}, inner);
  
  

  const eqA = make("path", {d:"M" + xOf(-90) + " " + yOf(0) + "H" + xOf(-72) + "M" + xOf(-50) + " " + yOf(0) + "H" + xOf(9) + "M" + xOf(42) + " " + yOf(0) + "H" + xOf(90), fill:"none", stroke:"#555555", "stroke-width":1.5, "stroke-dasharray":"6 4"}, inner);
  
  
  const meridian = make("path", {d:"M" + xOf(0) + " " + yOf(5) + "V" + yOf(-10), fill:"none", stroke:"#555555", "stroke-width":1.5, "stroke-dasharray":"6 4"}, inner);
  
  

  panelContours[idx].forEach(function(c){
    const p = make("path", {d:splinePath(c[1], !!c[2], xOf, yOf), fill:"none", stroke:contourColor[c[0]], "stroke-width":2.1, "stroke-linejoin":"round"}, inner);
    
    
  });

  if (idx === 3){
    const sx = xOf(stormP4[0]), sy = yOf(stormP4[1]);
    const storm = make("g", {}, inner);
    
    
    make("ellipse", {cx:sx, cy:sy, rx:6.2, ry:9.5, fill:"#000"}, storm);
    make("ellipse", {cx:sx, cy:sy, rx:4.3, ry:7, fill:"#ee1111"}, storm);
    make("circle", {cx:sx, cy:sy, r:2.6, fill:"#fff"}, storm);
    make("circle", {cx:sx, cy:sy, r:1.2, fill:"#ee1111"}, storm);
  }

  /* frame + ticks */
  let ticks = "";
  for (let lon = -90; lon <= 90; lon += 10){
    const major = lonTicks.indexOf(lon) >= 0;
    const len = major ? 8 : 4;
    ticks += "M" + xOf(lon) + " " + bottom + "v" + len;
    ticks += "M" + xOf(lon) + " " + top + "v" + (-(major ? 6 : 3));
  }
  for (let lat = -10; lat <= 30; lat += 2){
    const major = lat % 10 === 0;
    const len = major ? 5 : 2.5;
    ticks += "M" + left + " " + yOf(lat) + "h" + (-len);
    ticks += "M" + right + " " + yOf(lat) + "h" + len;
  }
  const tk = make("path", {d:ticks, fill:"none", stroke:"#000", "stroke-width":1.6}, g);
  
  
  const frame = make("rect", {x:left, y:top, width:right - left, height:bottom - top, fill:"none", stroke:"#111", "stroke-width":2.8}, g);
  
  

  /* labels */
  addText(g, title, left + (idx === 7 ? -1 : 0), y0 - 112, 36, "start", 'panel-title', titleFit[idx]);
  if (col === 0){
    latTicks.forEach(function(lat, i){
      const lab = latTickLabels[i];
      addText(g, lab, 74, yOf(lat) + 13, 36, "end", 'latitude-label', lab.length === 3 ? 63 : 18);
    });
  }
  if (row === 3){
    lonTicks.forEach(function(lon, i){
      const lab = lonTickLabels[i];
      addText(g, lab, xOf(lon), 912, 36, "middle", 'longitude-label', lab === "60W" ? 71 : (lab === "60E" ? 61 : 18));
    });
  }
  if (idx === 0) addText(g, "Observed", 737, 32.5, 36, "end", 'observed-label', 150);
  if (idx === 4) addText(g, "CFS Forecast", 1478, 32.5, 36, "end", 'cfs-forecast-label', 214);
});

/* colour bar */
const barRoot = document.getElementById("colorbar");
const BAR_X = 229, BAR_Y = 971.5, CELL_W = 54.9, CELL_H = 23.5;
const barColors = barLevels.map(function(v){
  return v === -6 ? levelColor["-6"] : levelColor[String(v)];
});
barColors[1] = "#8c510a";
barColors[2] = "#bf812d";
barColors.forEach(function(c, i){
  const r = make("rect", {x:BAR_X + i * CELL_W, y:BAR_Y, width:CELL_W, height:CELL_H, fill:c, stroke:"#222", "stroke-width":1.3}, barRoot);
  
  
});
barTickLabels.forEach(function(lab, i){
  addText(barRoot, lab, BAR_X + (i + 1) * CELL_W + 1, 1023.5, 31, "middle", 'colorbar-tick-label', lab.length > 1 ? 27 : 15);
});
</script>
</body>
</html>
